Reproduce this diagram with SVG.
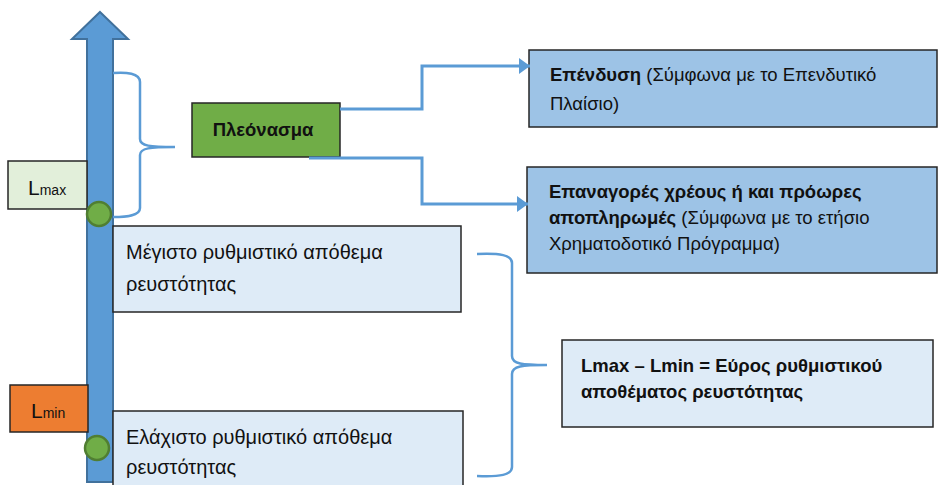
<svg xmlns="http://www.w3.org/2000/svg" width="939" height="485" viewBox="0 0 939 485">
<defs>
<marker id="ah" markerUnits="userSpaceOnUse" markerWidth="12" markerHeight="16" refX="11" refY="8" orient="auto">
<path d="M0,0 L11,8 L0,16 Z" fill="#5B9BD5"/>
</marker>
<style>
.t{font-family:"Liberation Sans",Arial,sans-serif;fill:#111}
.b{font-weight:bold}
.box{stroke:#262626;stroke-width:1.5}
.br{fill:none;stroke:#5B9BD5;stroke-width:2.5}
.cn{fill:none;stroke:#5B9BD5;stroke-width:3}
</style>
</defs>
<rect width="939" height="485" fill="#fff"/>

<g id="axis">
<path d="M100,12 L128,39 L113,39 L113,482 L87,482 L87,39 L72,39 Z" fill="#5B9BD5" stroke="#41719C" stroke-width="2"/>
</g>

<g id="lmax">
<rect class="box" x="8" y="161" width="79" height="48" fill="#E2EFDA"/>
<text class="t" x="28" y="195" font-size="21">L<tspan font-size="14">max</tspan></text>
</g>

<g id="lmin">
<rect class="box" x="10" y="385" width="78" height="47" fill="#ED7D31"/>
<text class="t" x="31" y="418" font-size="21">L<tspan font-size="14">min</tspan></text>
</g>

<g id="max-box">
<rect class="box" x="113" y="226" width="348" height="86" fill="#DEEBF7"/>
<text class="t" font-size="20"><tspan x="126" y="259">Μέγιστο ρυθμιστικό απόθεμα</tspan><tspan x="126" y="291">ρευστότητας</tspan></text>
</g>

<g id="min-box">
<rect class="box" x="113" y="411" width="350" height="80" fill="#DEEBF7"/>
<text class="t" font-size="20"><tspan x="126" y="444">Ελάχιστο ρυθμιστικό απόθεμα</tspan><tspan x="126" y="474">ρευστότητας</tspan></text>
</g>

<g id="dot-max">
<circle cx="99" cy="214" r="12" fill="#70AD47" stroke="#507E32" stroke-width="2.5"/>
</g>
<g id="dot-min">
<circle cx="97" cy="448" r="12" fill="#70AD47" stroke="#507E32" stroke-width="2.5"/>
</g>

<g id="surplus">
<rect class="box" x="192" y="103" width="148" height="54" fill="#70AD47"/>
<text class="t b" x="263" y="136" font-size="18.5" text-anchor="middle">Πλεόνασμα</text>
</g>

<g id="investment">
<rect class="box" x="529" y="50" width="408" height="77" fill="#9DC3E6"/>
<text class="t" font-size="18.5"><tspan x="550" y="81"><tspan class="b">Επένδυση</tspan> (Σύμφωνα με το Επενδυτικό</tspan><tspan x="550" y="110">Πλαίσιο)</tspan></text>
</g>

<g id="buyback">
<rect class="box" x="527" y="167" width="410" height="106" fill="#9DC3E6"/>
<text class="t" font-size="18.5"><tspan x="549" y="198" class="b">Επαναγορές χρέους ή και πρόωρες</tspan><tspan x="549" y="224"><tspan class="b">αποπληρωμές</tspan> (Σύμφωνα με το ετήσιο</tspan><tspan x="549" y="250">Χρηματοδοτικό Πρόγραμμα)</tspan></text>
</g>

<g id="range">
<rect class="box" x="562" y="340" width="371" height="87" fill="#DEEBF7"/>
<text class="t b" font-size="18.5"><tspan x="581" y="372">Lmax – Lmin = Εύρος ρυθμιστικού</tspan><tspan x="581" y="398">αποθέματος ρευστότητας</tspan></text>
</g>

<g id="connectors">
<path class="br" d="M113,73 C126,72 140,73 140,82 L140,139 C140,146 150,147 175,147 M175,147 C150,147 140,148 140,155 L140,208 C140,216 126,217 113,217"/>
<path class="br" d="M477,254 C500,253 512,255 512,263 L512,356 C512,364 522,365 547,365 M547,365 C522,365 512,366 512,374 L512,467 C512,475 500,477 477,476"/>
<path class="cn" d="M340,109 L422,109 L422,66 L530,66" marker-end="url(#ah)"/>
<path class="cn" d="M309,158 L422,158 L422,204 L528,204" marker-end="url(#ah)"/>
</g>
</svg>
